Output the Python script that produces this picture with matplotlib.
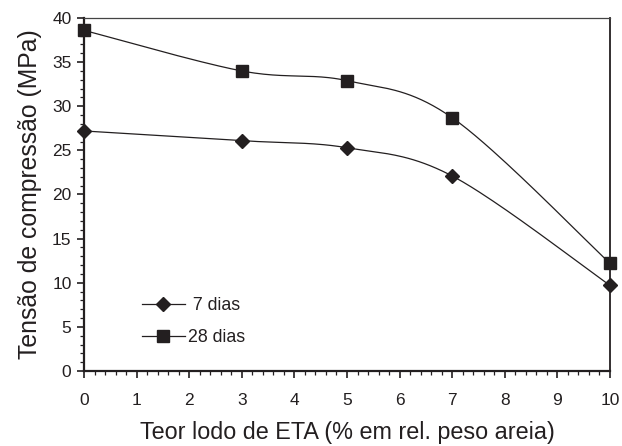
import numpy as np
import matplotlib.pyplot as plt
from matplotlib.ticker import MultipleLocator

plt.rcParams['font.family'] = ['Liberation Sans', 'DejaVu Sans']

teor = [0, 3, 5, 7, 10]
dias7 = [27.2, 26.1, 25.3, 22.1, 9.7]
dias28 = [38.6, 34.0, 32.9, 28.7, 12.2]


def smooth_curve(x, y, n=40):
    # Catmull-Rom style bezier, like the smoothed line option in Excel
    x = np.asarray(x, float)
    y = np.asarray(y, float)
    px = np.concatenate(([x[0]], x, [x[-1]]))
    py = np.concatenate(([y[0]], y, [y[-1]]))
    xs, ys = [], []
    t = np.linspace(0, 1, n)
    for i in range(1, len(px) - 2):
        p0 = np.array([px[i], py[i]])
        p3 = np.array([px[i + 1], py[i + 1]])
        c1 = p0 + (np.array([px[i + 1], py[i + 1]]) - np.array([px[i - 1], py[i - 1]])) / 6
        c2 = p3 - (np.array([px[i + 2], py[i + 2]]) - np.array([px[i], py[i]])) / 6
        pts = ((1 - t)[:, None] ** 3 * p0 + 3 * ((1 - t) ** 2 * t)[:, None] * c1
               + 3 * ((1 - t) * t ** 2)[:, None] * c2 + (t ** 3)[:, None] * p3)
        xs.extend(pts[:, 0])
        ys.extend(pts[:, 1])
    return xs, ys


fig = plt.figure(figsize=(6.22, 4.46), dpi=100)
ax = fig.add_axes([84 / 622, 1 - 371 / 446, 526 / 622, 353 / 446])

col = '#231f20'
for vals, mk, ms, lab in [(dias7, 'D', 7.5, ' 7 dias'), (dias28, 's', 9, '28 dias')]:
    sx, sy = smooth_curve(teor, vals)
    ax.plot(sx, sy, color=col, lw=0.9, zorder=2)
    ax.plot(teor, vals, linestyle='none', marker=mk, ms=ms, color=col, zorder=3, clip_on=False)
    ax.plot([], [], color=col, lw=0.9, marker=mk, ms=ms, label=lab)

ax.set_xlim(0, 10)
ax.set_ylim(0, 40)
ax.xaxis.set_major_locator(MultipleLocator(1))
ax.xaxis.set_minor_locator(MultipleLocator(0.2))
ax.yaxis.set_major_locator(MultipleLocator(5))
ax.yaxis.set_minor_locator(MultipleLocator(1))
ax.tick_params(which='major', direction='out', length=5, width=1.2, labelsize=12.5,
               colors=col, pad=11)
ax.tick_params(axis='y', which='major', pad=4)
ax.tick_params(which='minor', direction='out', length=3, width=0.9, colors=col)
ax.tick_params(top=False, right=False, which='both')

for s in ['left', 'bottom']:
    ax.spines[s].set_linewidth(1.6)
    ax.spines[s].set_color(col)
ax.spines['right'].set_linewidth(1.3)
ax.spines['right'].set_color(col)
ax.spines['top'].set_linewidth(0.9)
ax.spines['top'].set_color('#444444')

ax.set_xlabel('Teor lodo de ETA (% em rel. peso areia)', fontsize=16.8, color=col, labelpad=9)
ax.set_ylabel('Tensão de compressão (MPa)', fontsize=17.8, color=col, labelpad=7)

ax.legend(loc='lower left', bbox_to_anchor=(0.08, 0.025), frameon=False, fontsize=12.8,
          handlelength=2.4, handletextpad=0.2, labelspacing=0.85, labelcolor=col)

fig.savefig('out.png', dpi=100)
